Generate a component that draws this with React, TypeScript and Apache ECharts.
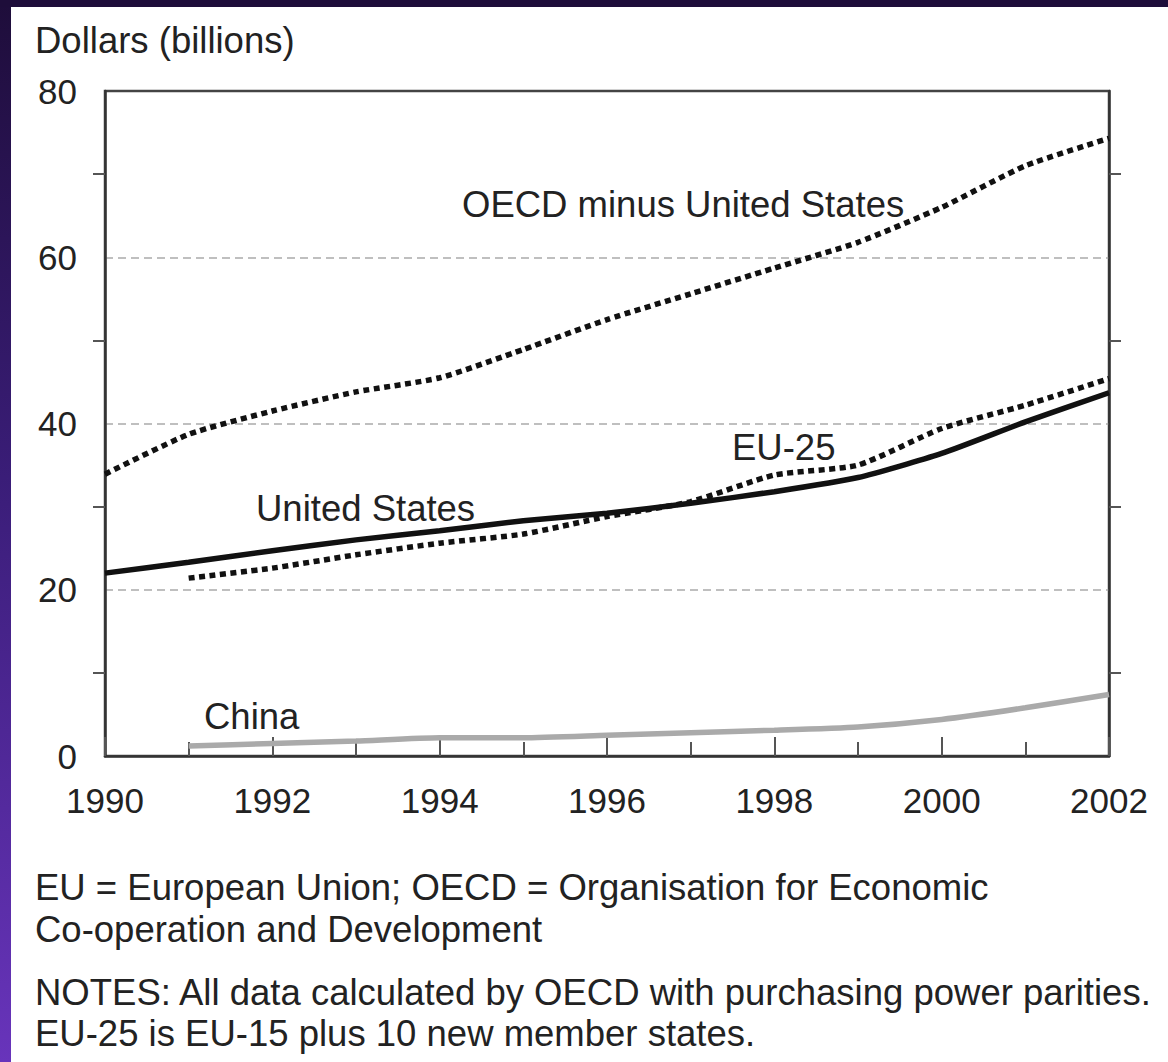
import React, { useEffect, useRef } from "react";
import * as echarts from "echarts";

const years = [1990, 1991, 1992, 1993, 1994, 1995, 1996, 1997, 1998, 1999, 2000, 2001, 2002];
const oecdMinusUS = [33.9, 38.7, 41.5, 43.8, 45.5, 48.9, 52.5, 55.6, 58.7, 61.8, 66.0, 71.0, 74.3];
const unitedStates = [22.0, 23.3, 24.7, 26.0, 27.1, 28.3, 29.2, 30.4, 31.8, 33.5, 36.4, 40.2, 43.7];
const eu25 = [null, 21.4, 22.6, 24.2, 25.6, 26.7, 28.8, 30.6, 33.8, 35.0, 39.4, 42.2, 45.4];
const china = [null, 1.2, 1.5, 1.8, 2.2, 2.2, 2.5, 2.8, 3.1, 3.5, 4.4, 5.8, 7.4];
const yTicks = [0, 20, 40, 60, 80];

const unitLabel = "Dollars (billions)";
const footLines = [
  "EU = European Union; OECD = Organisation for Economic",
  "Co-operation and Development",
  "NOTES: All data calculated by OECD with purchasing power parities.",
  "EU-25 is EU-15 plus 10 new member states.",
];

const FONT = "Liberation Sans, Arial, sans-serif";
const TXT = "#222";
const FS = 36.5;

function pairs(vals: (number | null)[]) {
  return years.map((y, i) => [y, vals[i]]);
}

export default function App() {
  const ref = useRef<HTMLDivElement>(null);
  useEffect(() => {
    document.body.style.margin = "0";
    if (!ref.current) return;
    const chart = echarts.init(ref.current, null, { renderer: "svg" });
    const dotted = { type: [6, 4.5] as any, width: 5.5, cap: "butt" as any, color: "#111" };
    const annot = (text: string, x: number, y: number) => ({
      type: "text",
      x,
      y,
      style: { text, font: `${FS}px ${FONT}`, fill: TXT, align: "left", verticalAlign: "middle" },
      z: 10,
    });
    chart.setOption({
      animation: false,
      backgroundColor: "transparent",
      grid: {
        left: 105,
        top: 91,
        right: 59,
        bottom: 306,
        show: true,
        borderColor: "#444",
        borderWidth: 2.5,
      },
      xAxis: {
        type: "value",
        min: 1990,
        max: 2002,
        interval: 2,
        axisLine: { show: true, lineStyle: { color: "#333", width: 2.5 } },
        axisTick: { show: true, inside: true, length: 19, lineStyle: { color: "#555", width: 2 } },
        minorTick: { show: true, splitNumber: 2, length: 14, lineStyle: { color: "#555", width: 2 } },
        splitLine: { show: false },
        axisLabel: {
          color: TXT,
          fontSize: 35,
          fontFamily: FONT,
          margin: 27,
          formatter: (v: number) => String(v),
        },
      },
      yAxis: [
        {
          type: "value",
          min: 0,
          max: 80,
          interval: 20,
          axisLine: { show: true, lineStyle: { color: "#333", width: 2.5 } },
          axisTick: { show: false },
          minorTick: { show: true, splitNumber: 2, length: 12, lineStyle: { color: "#555", width: 2 } },
          splitLine: {
            show: true,
            lineStyle: {
              color: ["rgba(0,0,0,0)", "#aaa", "#aaa", "#aaa", "rgba(0,0,0,0)"],
              width: 1.5,
              type: [8, 5],
            },
          },
          axisLabel: {
            color: TXT,
            fontSize: 35,
            fontFamily: FONT,
            margin: 28,
            formatter: (v: number) => (yTicks.includes(v) ? String(v) : ""),
          },
        },
        {
          type: "value",
          position: "right",
          min: 0,
          max: 80,
          interval: 20,
          axisLine: { show: true, lineStyle: { color: "#333", width: 2.5 } },
          axisTick: { show: false },
          minorTick: { show: true, splitNumber: 2, length: 12, lineStyle: { color: "#555", width: 2 } },
          splitLine: { show: false },
          axisLabel: { show: false },
        },
      ],
      series: [
        {
          name: "China",
          type: "line",
          data: pairs(china),
          symbol: "none",
          smooth: 0.2,
          lineStyle: { color: "#aaaaaa", width: 5.5 },
        },
        {
          name: "EU-25",
          type: "line",
          data: pairs(eu25),
          symbol: "none",
          smooth: 0.2,
          lineStyle: dotted,
        },
        {
          name: "United States",
          type: "line",
          data: pairs(unitedStates),
          symbol: "none",
          smooth: 0.2,
          lineStyle: { color: "#111", width: 5.5 },
        },
        {
          name: "OECD minus United States",
          type: "line",
          data: pairs(oecdMinusUS),
          symbol: "none",
          smooth: 0.2,
          lineStyle: dotted,
        },
      ],
      graphic: [
        {
          type: "text",
          x: 35,
          y: 40,
          style: { text: unitLabel, font: `${FS}px ${FONT}`, fill: TXT, align: "left", verticalAlign: "middle" },
        },
        annot("OECD minus United States", 462, 204),
        annot("EU-25", 732, 447),
        annot("United States", 256, 508),
        annot("China", 204, 716),
        ...footLines.map((t, i) => ({
          type: "text",
          x: 35,
          y: [887, 929, 992, 1033][i],
          style: { text: t, font: `${FS}px ${FONT}`, fill: TXT, align: "left", verticalAlign: "middle" },
        })),
      ],
    });
    return () => chart.dispose();
  }, []);
  return (
    <div
      style={{
        position: "absolute",
        left: 0,
        top: 0,
        width: 1168,
        height: 1062,
        background: "linear-gradient(to bottom, #1e0d3a 0%, #3a1d78 45%, #6834bb 100%)",
        overflow: "hidden",
      }}
    >
      <div style={{ position: "absolute", left: 0, top: 0, width: 1168, height: 7, background: "#1e0d3a" }} />
      <div style={{ position: "absolute", left: 11, top: 7, right: 0, bottom: 0, background: "#fff" }} />
      <div ref={ref} style={{ position: "absolute", left: 0, top: 0, width: 1168, height: 1062 }} />
    </div>
  );
}
